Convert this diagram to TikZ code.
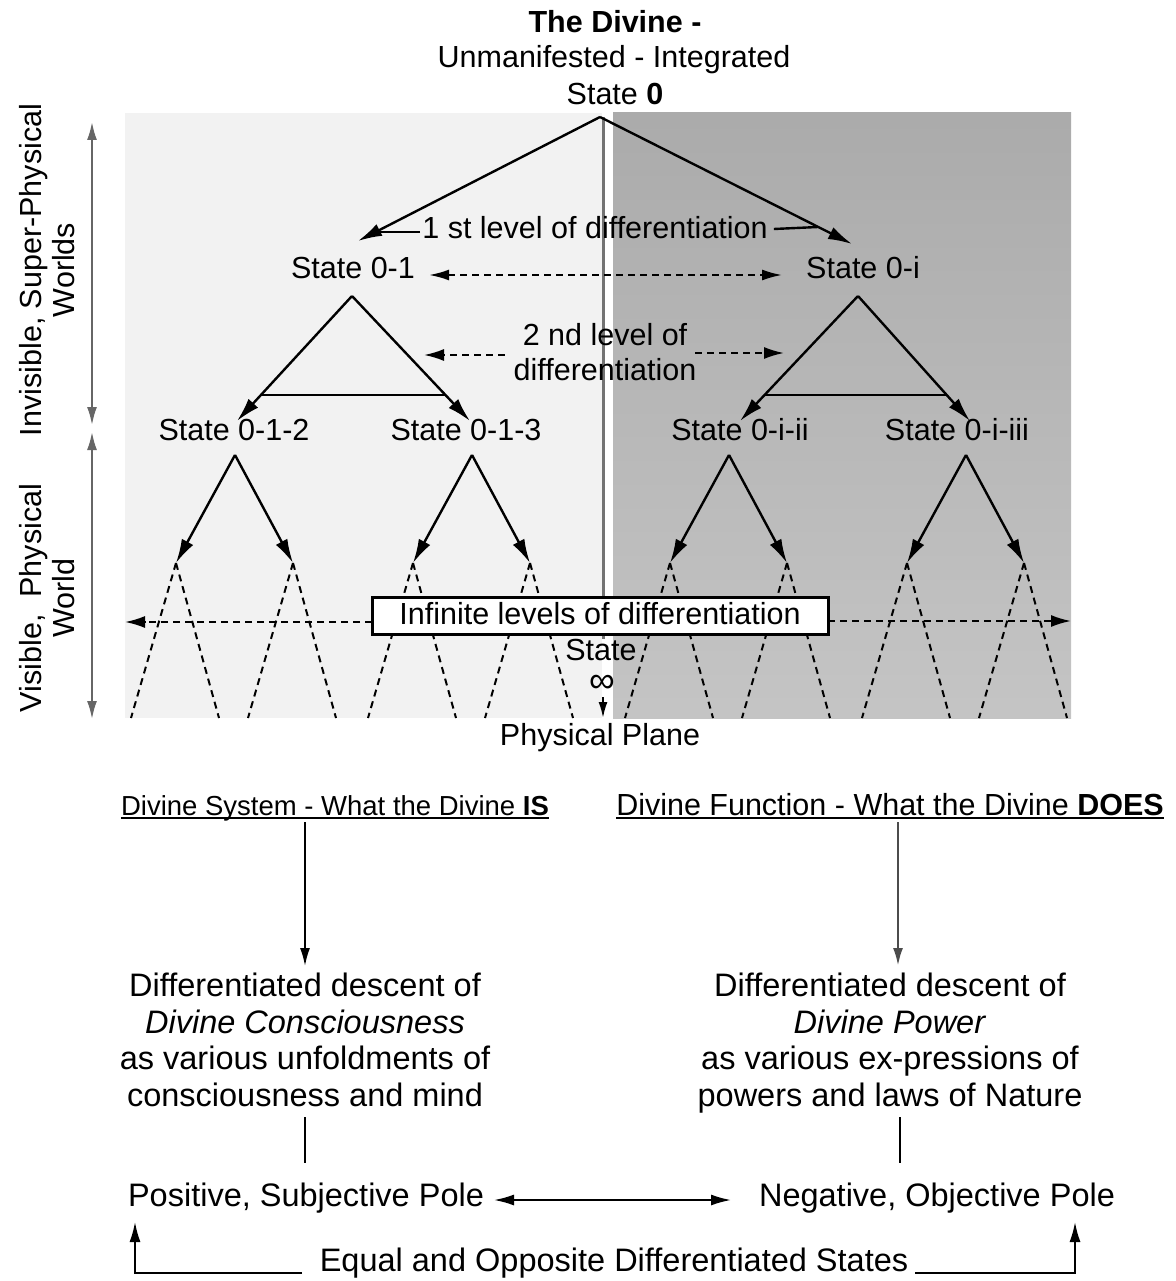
\documentclass[tikz,border=0pt]{standalone}
\usepackage{fontspec}
\setmainfont{Liberation Sans}
\usetikzlibrary{arrows.meta,calc}
\begin{document}
\begin{tikzpicture}[x=1pt,y=-1pt,
  txt/.style={font=\fontsize{30.5}{36}\selectfont, inner sep=0pt, text height=22pt, text depth=6pt},
  btxt/.style={font=\fontsize{32.5}{36.5}\selectfont, inner sep=0pt, align=center},
  htxt/.style={font=\fontsize{27.5}{32}\selectfont, inner sep=0pt, text height=20pt, text depth=6pt},
  sidetxt/.style={font=\fontsize{30.5}{33}\selectfont, inner sep=0pt, align=center, rotate=90},
  sol/.style={line width=2.4pt},
  solarr/.style={line width=2.4pt, -{Latex[length=24pt,width=13pt]}},
  dsh/.style={line width=2pt, dash pattern=on 7pt off 5pt},
  tip/.style={-{Latex[length=20pt,width=12pt]}},
  bitip/.style={{Latex[length=20pt,width=11pt]}-{Latex[length=20pt,width=11pt]}},
  thin/.style={line width=1.8pt}
]
\useasboundingbox (0,0) rectangle (1175,1281);
% backgrounds
\fill[black!5] (125,113) rectangle (602,718);
\shade[top color=black!33, bottom color=black!23] (613,113) rectangle (1071,718);

% title
\node[txt, font=\bfseries\fontsize{30.5}{36}\selectfont] (title1) at (615,25) {The Divine -};
\node[txt] (title2) at (614,60) {Unmanifested - Integrated};
\node[txt] (s0) at (615,97) {State \textbf{0}};
\coordinate (a0) at (600,117);

% central divider
\draw[black!55, line width=3pt] (603,117) -- (603,598);
\draw[black!55, line width=3pt] (603,636) -- (603,639);

% first level
\coordinate (t01) at (358,241);
\coordinate (t0i) at (852,244);
\draw[solarr] (a0) -- (t01);
\draw[solarr] (a0) -- (t0i);
\node[txt] (lev1) at (595,231) {1 st level of differentiation};
\draw[sol] ($(lev1.west)+(-2,1)$) -- (377,232);
\draw[sol] ($(lev1.east)+(6,-2)$) -- (818,227);

\node[txt] (s01) at (353,270) {State 0-1};
\node[txt] (s0i) at (863,270) {State 0-i};
\draw[dsh, bitip] ($(s01.east)+(14,5)$) -- ($(s0i.west)+(-24,5)$);

% second level left
\coordinate (a1) at (352,296);
\coordinate (t012) at (237,421);
\coordinate (t013) at (470,421);
\draw[solarr] (a1) -- (t012);
\draw[solarr] (a1) -- (t013);
\draw[sol] (260,395) -- (446,395);
% second level right
\coordinate (a2) at (858,296);
\coordinate (t0ii) at (740,421);
\coordinate (t0iii) at (970,421);
\draw[solarr] (a2) -- (t0ii);
\draw[solarr] (a2) -- (t0iii);
\draw[sol] (764,395) -- (947,395);

\node[txt] (lev2a) at (605,337) {2 nd level of};
\node[txt] (lev2b) at (605,372) {differentiation};
\draw[dsh, tip] ($(lev2a.west)+(-18,18)$) -- (424,355);
\draw[dsh, tip] ($(lev2a.east)+(8,16)$) -- (784,353);

\node[txt] (s012) at (234,432) {State 0-1-2};
\node[txt] (s013) at (466,432) {State 0-1-3};
\node[txt] (s0ii) at (740,432) {State 0-i-ii};
\node[txt] (s0iii) at (957,432) {State 0-i-iii};

% third level: solid arrows
\foreach \ax/\nm in {235/g1,472/g2,729/g3,966/g4}{
  \coordinate (\nm) at (\ax,455);
  \coordinate (\nm l) at (\ax-59,563);
  \coordinate (\nm r) at (\ax+58,563);
  \draw[solarr] (\nm) -- (\nm l);
  \draw[solarr] (\nm) -- (\nm r);
}
\foreach \nm in {g1,g2,g3,g4}{
  \foreach \s in {l,r}{
    \draw[dsh] (\nm\s) -- ++(-45,155);
    \draw[dsh] (\nm\s) -- ++(43,155);
  }
}

% infinite levels box
\draw[dsh] (372,622) -- (146,622);
\draw[line width=2pt, -{Latex[length=20pt,width=12pt]}] (146,622) -- (125,622);
\draw[dsh] (828,621) -- (1050,621);
\draw[line width=2pt, -{Latex[length=20pt,width=12pt]}] (1050,621) -- (1071,621);
\node[txt, draw, fill=white, line width=3pt, minimum width=456pt, minimum height=37pt] (inf) at (600,616) {Infinite levels of differentiation};

% state infinity
\node[font=\fontsize{30.5}{36}\selectfont, inner sep=0pt] (sinf) at (601,650) {State};
\node[font=\fontsize{36}{36}\selectfont, inner sep=0pt] (infsym) at (602,684) {∞};
\draw[line width=2pt, -{Latex[length=16pt,width=9pt]}] (603,697) -- (603,718);
\node[txt] (pp) at (600,737) {Physical Plane};

% side labels
\node[sidetxt] (inv) at (47,270) {Invisible, Super-Physical\\Worlds};
\node[sidetxt] (vis) at (47,598) {Visible,\ \ Physical\\World};
\draw[black!60, line width=2pt, {Latex[length=18pt,width=10pt]}-{Latex[length=18pt,width=10pt]}] (92,122) -- (92,425);
\draw[black!60, line width=2pt, {Latex[length=18pt,width=10pt]}-{Latex[length=18pt,width=10pt]}] (92,432) -- (92,719);

% lower section headings
\node[htxt] (sys) at (335,808) {Divine System - What the Divine \textbf{IS}};
\node[htxt, font=\fontsize{30.5}{34}\selectfont] (fun) at (890,808) {Divine Function - What the Divine \textbf{DOES}};
\draw[line width=1.8pt] ([yshift=3pt]sys.south west) -- ([yshift=3pt]sys.south east);
\draw[line width=1.8pt] ([yshift=3pt]fun.south west) -- ([yshift=3pt]fun.south east);
\coordinate (sysd) at (305,822);
\coordinate (fund) at (898,822);

\node[btxt, anchor=north] (cons) at (305,973) {Differentiated descent of\\\textit{Divine Consciousness}\\as various unfoldments of\\consciousness and mind};
\node[btxt, anchor=north] (pow) at (890,973) {Differentiated descent of\\\textit{Divine Power}\\as various ex-pressions of\\powers and laws of Nature};
\draw[thin, -{Latex[length=18pt,width=10pt]}] (sysd) -- (305,966);
\draw[black!70, line width=2.6pt, -{Latex[length=18pt,width=10pt]}] (fund) -- (898,966);
\draw[thin] (305,1117) -- (305,1163);
\draw[thin] (900,1117) -- (900,1163);

\node[btxt] (pos) at (306,1198) {Positive, Subjective Pole};
\node[btxt] (neg) at (937,1198) {Negative, Objective Pole};
\draw[thin, {Latex[length=20pt,width=11pt]}-{Latex[length=20pt,width=11pt]}] (494,1200) -- (731,1200);

\node[btxt] (eq) at (614,1263) {Equal and Opposite Differentiated States};
\draw[thin, -{Latex[length=20pt,width=11pt]}] (302,1273) -- (135,1273) -- (135,1222);
\draw[thin, -{Latex[length=20pt,width=11pt]}] (915,1273) -- (1075,1273) -- (1075,1222);
\end{tikzpicture}
\end{document}
